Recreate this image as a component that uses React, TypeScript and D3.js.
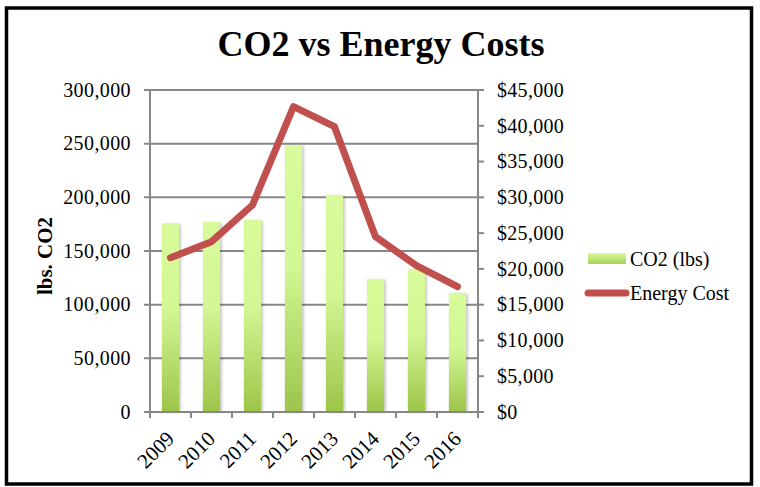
import { useEffect, useRef } from 'react';
import * as d3 from 'd3';

const years = ['2009', '2010', '2011', '2012', '2013', '2014', '2015', '2016'];
const co2Lbs = [175800, 177000, 178900, 248800, 202200, 123900, 133200, 110900];
const energyCost = [21560, 23800, 28930, 42670, 39870, 24500, 20450, 17510];
const leftTicks = [0, 50000, 100000, 150000, 200000, 250000, 300000];
const rightTicks = [0, 5000, 10000, 15000, 20000, 25000, 30000, 35000, 40000, 45000];

const FONT = '"Liberation Serif", "Times New Roman", serif';

const App = () => {
    const ref = useRef<SVGSVGElement>(null);

    useEffect(() => {
        if (!ref.current) return;
        const svg = d3.select(ref.current);
        svg.selectAll('*').remove();

        const left = 150, right = 478, top = 90, bottom = 412;

        const x = d3.scaleBand<string>()
            .domain(years)
            .range([left, right])
            .paddingInner(0.58)
            .paddingOuter(0.29);
        const yL = d3.scaleLinear().domain([0, 300000]).range([bottom, top]);
        const yR = d3.scaleLinear().domain([0, 45000]).range([bottom, top]);

        const defs = svg.append('defs');
        const grad = defs.append('linearGradient')
            .attr('id', 'barGrad')
            .attr('x1', 0).attr('x2', 0).attr('y1', 0).attr('y2', 1);
        grad.append('stop').attr('offset', '0%').attr('stop-color', '#d9fb9b');
        grad.append('stop').attr('offset', '45%').attr('stop-color', '#d3f795');
        grad.append('stop').attr('offset', '100%').attr('stop-color', '#9cc549');

        const legGrad = defs.append('linearGradient')
            .attr('id', 'legGrad')
            .attr('x1', 0).attr('x2', 0).attr('y1', 0).attr('y2', 1);
        legGrad.append('stop').attr('offset', '0%').attr('stop-color', '#d9fb9b');
        legGrad.append('stop').attr('offset', '100%').attr('stop-color', '#a8cf58');

        const shadow = defs.append('filter').attr('id', 'shadow')
            .attr('x', '-50%').attr('y', '-10%').attr('width', '200%').attr('height', '120%');
        shadow.append('feGaussianBlur').attr('stdDeviation', 1.5);

        // background + frame
        svg.append('rect')
            .attr('width', 760).attr('height', 487).attr('fill', '#fff');
        svg.append('rect')
            .attr('x', 6.5).attr('y', 8).attr('width', 745).attr('height', 476)
            .attr('fill', 'none').attr('stroke', '#000').attr('stroke-width', 3.5);

        // title
        svg.append('text')
            .attr('x', 381).attr('y', 56)
            .attr('text-anchor', 'middle')
            .style('font-family', FONT)
            .style('font-weight', 'bold')
            .style('font-size', '36px')
            .text('CO2 vs Energy Costs');

        const grid = '#878787';

        // gridlines + left ticks
        svg.append('g')
            .selectAll('line')
            .data(leftTicks)
            .join('line')
            .attr('x1', left - 6).attr('x2', right)
            .attr('y1', d => yL(d)).attr('y2', d => yL(d))
            .attr('stroke', grid).attr('stroke-width', 2);

        // right axis ticks
        svg.append('g')
            .selectAll('line')
            .data(rightTicks)
            .join('line')
            .attr('x1', right).attr('x2', right + 6)
            .attr('y1', d => yR(d)).attr('y2', d => yR(d))
            .attr('stroke', grid).attr('stroke-width', 2);

        // axis lines
        svg.append('line')
            .attr('x1', left).attr('x2', left).attr('y1', top).attr('y2', bottom)
            .attr('stroke', grid).attr('stroke-width', 2);
        svg.append('line')
            .attr('x1', right).attr('x2', right).attr('y1', top).attr('y2', bottom)
            .attr('stroke', grid).attr('stroke-width', 2);

        // bottom ticks at category boundaries
        const step = x.step();
        svg.append('g')
            .selectAll('line')
            .data(d3.range(years.length + 1))
            .join('line')
            .attr('x1', i => left + i * step).attr('x2', i => left + i * step)
            .attr('y1', bottom).attr('y2', bottom + 6)
            .attr('stroke', grid).attr('stroke-width', 2);

        // bars
        const bars = svg.append('g');
        bars.selectAll('rect.sh')
            .data(co2Lbs)
            .join('rect')
            .attr('class', 'sh')
            .attr('x', (_, i) => (x(years[i]) as number) + 1.5)
            .attr('y', d => yL(d) + 1)
            .attr('width', x.bandwidth())
            .attr('height', d => bottom - yL(d) - 1)
            .attr('fill', '#000')
            .attr('opacity', 0.25)
            .attr('filter', 'url(#shadow)');
        bars.selectAll('rect.bar')
            .data(co2Lbs)
            .join('rect')
            .attr('class', 'bar')
            .attr('x', (_, i) => x(years[i]) as number)
            .attr('y', d => yL(d))
            .attr('width', x.bandwidth())
            .attr('height', d => bottom - yL(d))
            .attr('fill', 'url(#barGrad)');

        // redraw bottom axis line over bars
        svg.append('line')
            .attr('x1', left - 6).attr('x2', right)
            .attr('y1', bottom).attr('y2', bottom)
            .attr('stroke', grid).attr('stroke-width', 2);

        // energy cost line
        const line = d3.line<number>()
            .x((_, i) => (x(years[i]) as number) + x.bandwidth() / 2)
            .y(d => yR(d));
        svg.append('path')
            .attr('d', line(energyCost))
            .attr('fill', 'none')
            .attr('stroke', '#c0504d')
            .attr('stroke-width', 7)
            .attr('stroke-linecap', 'round')
            .attr('stroke-linejoin', 'round');

        const fmt = d3.format(',');

        // left labels
        svg.append('g')
            .selectAll('text')
            .data(leftTicks)
            .join('text')
            .attr('x', 131)
            .attr('y', d => yL(d))
            .attr('dy', '0.34em')
            .attr('text-anchor', 'end')
            .style('font-family', FONT)
            .style('font-size', '20px')
            .style('letter-spacing', '0.4px')
            .text(d => fmt(d));

        // right labels
        svg.append('g')
            .selectAll('text')
            .data(rightTicks)
            .join('text')
            .attr('x', 497)
            .attr('y', d => yR(d))
            .attr('dy', '0.34em')
            .attr('text-anchor', 'start')
            .style('font-family', FONT)
            .style('font-size', '20px')
            .style('letter-spacing', '0.3px')
            .text(d => '$' + fmt(d));

        // x labels
        svg.append('g')
            .selectAll('text')
            .data(years)
            .join('text')
            .attr('transform', d => `translate(${(x(d) as number) + x.bandwidth() / 2 + 5},440) rotate(-45)`)
            .attr('text-anchor', 'end')
            .style('font-family', FONT)
            .style('font-size', '21px')
            .text(d => d);

        // y title
        svg.append('text')
            .attr('transform', 'translate(52,256) rotate(-90)')
            .attr('text-anchor', 'middle')
            .style('font-family', FONT)
            .style('font-weight', 'bold')
            .style('font-size', '21px')
            .text('lbs. CO2');

        // legend
        const leg = svg.append('g');
        leg.append('rect')
            .attr('x', 588).attr('y', 253).attr('width', 38).attr('height', 11)
            .attr('fill', 'url(#legGrad)');
        leg.append('text')
            .attr('x', 630).attr('y', 266)
            .style('font-family', FONT)
            .style('font-size', '20px')
            .text('CO2 (lbs)');
        leg.append('line')
            .attr('x1', 588).attr('x2', 626).attr('y1', 293).attr('y2', 293)
            .attr('stroke', '#c0504d').attr('stroke-width', 7)
            .attr('stroke-linecap', 'round');
        leg.append('text')
            .attr('x', 630).attr('y', 300)
            .style('font-family', FONT)
            .style('font-size', '20px')
            .text('Energy Cost');
    }, []);

    return (
        <svg
            ref={ref}
            width={760}
            height={487}
            style={{ position: 'absolute', left: 0, top: 0, display: 'block' }}
        />
    );
};

export default App;
